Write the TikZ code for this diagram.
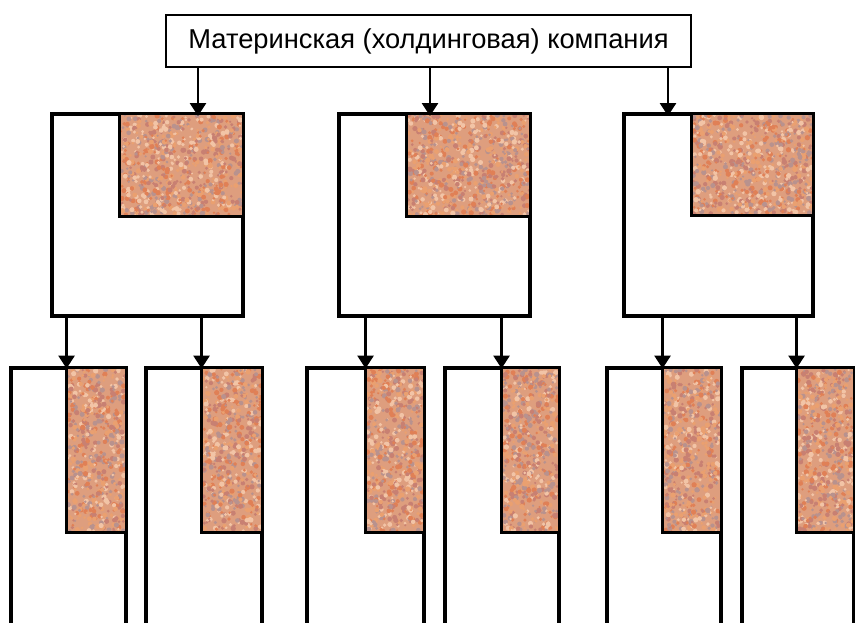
\documentclass[tikz,border=0pt]{standalone}
\usepackage{fontspec}
\setmainfont{Liberation Sans}
\usetikzlibrary{arrows.meta}
\definecolor{texbase}{RGB}{222,158,126}
\definecolor{tex1}{RGB}{234,160,112}
\definecolor{tex2}{RGB}{200,128,114}
\definecolor{tex3}{RGB}{242,196,166}
\definecolor{tex4}{RGB}{184,146,142}
\definecolor{tex5}{RGB}{224,128,86}
\tikzset{
  box/.style={draw=black, line width=2.9pt, fill=white, rectangle, inner sep=0pt},
  shade/.style={draw=black, line width=2.9pt, rectangle, inner sep=0pt},
  arr/.style={line width=2.8pt, -{Triangle[width=16pt,length=13pt]}, shorten >=-1pt},
  title/.style={draw=black, line width=2.8pt, fill=white, rectangle, inner sep=0pt, font=\fontsize{27.3}{32}\selectfont}
}
\newcommand{\mottlefill}[6]{%
  \begin{scope}
    \clip (#2,#3) rectangle ++(#4,#5);
    \fill[texbase] (#2,#3) rectangle ++(#4,#5);
    \foreach \i in {1,...,#6}{
      \pgfmathsetmacro\px{#2+rnd*#4}
      \pgfmathsetmacro\py{#3+rnd*#5}
      \pgfmathsetmacro\pr{1.2+rnd*1.5}
      \pgfmathrandominteger{\c}{1}{5}
      \fill[fill=tex\c] (\px,\py) circle (\pr);
    }
  \end{scope}
  \draw[line width=2.9pt] (#1.north west) rectangle (#1.south east);
}
\begin{document}
\begin{tikzpicture}[x=1pt,y=-1pt]
\pgfmathsetseed{12345}
\useasboundingbox (0,0) rectangle (855,622);
\fill[white] (0,0) rectangle (855,622);
\clip (0,0) rectangle (855,622);

% top node
\node[title, minimum width=525pt, minimum height=52pt] (top) at (428.5,41) {Материнская (холдинговая) компания};

% level 2 boxes
\node[box, minimum width=189pt, minimum height=200pt] (b1) at (147.5,215) {};
\node[box, minimum width=189pt, minimum height=200pt] (b2) at (434.5,215) {};
\node[box, minimum width=187pt, minimum height=200pt] (b3) at (718.5,215) {};
\node[shade, minimum width=121pt, minimum height=100pt] (s1) at (181.5,165) {};
\node[shade, minimum width=121pt, minimum height=100pt] (s2) at (468.5,165) {};
\node[shade, minimum width=119pt, minimum height=99pt] (s3) at (752.5,164.5) {};
\mottlefill{s1}{121}{115}{121}{100}{800}
\mottlefill{s2}{408}{115}{121}{100}{800}
\mottlefill{s3}{693}{115}{119}{99}{800}

% level 3 boxes
\node[box, minimum width=113pt, minimum height=280pt] (c1) at (68.5,509) {};
\node[box, minimum width=114pt, minimum height=280pt] (c2) at (204,509) {};
\node[box, minimum width=115pt, minimum height=280pt] (c3) at (365.5,509) {};
\node[box, minimum width=112pt, minimum height=280pt] (c4) at (502,509) {};
\node[box, minimum width=112pt, minimum height=280pt] (c5) at (664,509) {};
\node[box, minimum width=110pt, minimum height=280pt] (c6) at (798,509) {};
\node[shade, minimum width=57pt, minimum height=162pt] (t1) at (96.5,450) {};
\node[shade, minimum width=58pt, minimum height=162pt] (t2) at (232,450) {};
\node[shade, minimum width=56pt, minimum height=162pt] (t3) at (395,450) {};
\node[shade, minimum width=55pt, minimum height=162pt] (t4) at (530.5,450) {};
\node[shade, minimum width=56pt, minimum height=162pt] (t5) at (692,450) {};
\node[shade, minimum width=55pt, minimum height=162pt] (t6) at (825.5,450) {};
\mottlefill{t1}{68}{369}{57}{162}{600}
\mottlefill{t2}{203}{369}{58}{162}{600}
\mottlefill{t3}{367}{369}{56}{162}{600}
\mottlefill{t4}{503}{369}{55}{162}{600}
\mottlefill{t5}{664}{369}{56}{162}{600}
\mottlefill{t6}{798}{369}{55}{162}{600}

% redraw outer box borders on top
\foreach \n in {b1,b2,b3,c1,c2,c3,c4,c5,c6}{
  \draw[line width=2.9pt] (\n.north west) rectangle (\n.south east);
}

% arrow targets on level 2
\coordinate (a1) at (198,115);
\coordinate (a2) at (430,115);
\coordinate (a3) at (668,115);
\draw[arr] (top.south -| a1) -- (a1);
\draw[arr] (top.south -| a2) -- (a2);
\draw[arr] (top.south -| a3) -- (a3);

% level 3 arrows
\draw[arr] (b1.south -| t1.north west) -- (t1.north west);
\draw[arr] (b1.south -| t2.north west) -- (t2.north west);
\draw[arr] (b2.south -| t3.north west) -- (t3.north west);
\draw[arr] (b2.south -| t4.north west) -- (t4.north west);
\draw[arr] (b3.south -| t5.north west) -- (t5.north west);
\draw[arr] (b3.south -| t6.north west) -- (t6.north west);
\end{tikzpicture}
\end{document}
